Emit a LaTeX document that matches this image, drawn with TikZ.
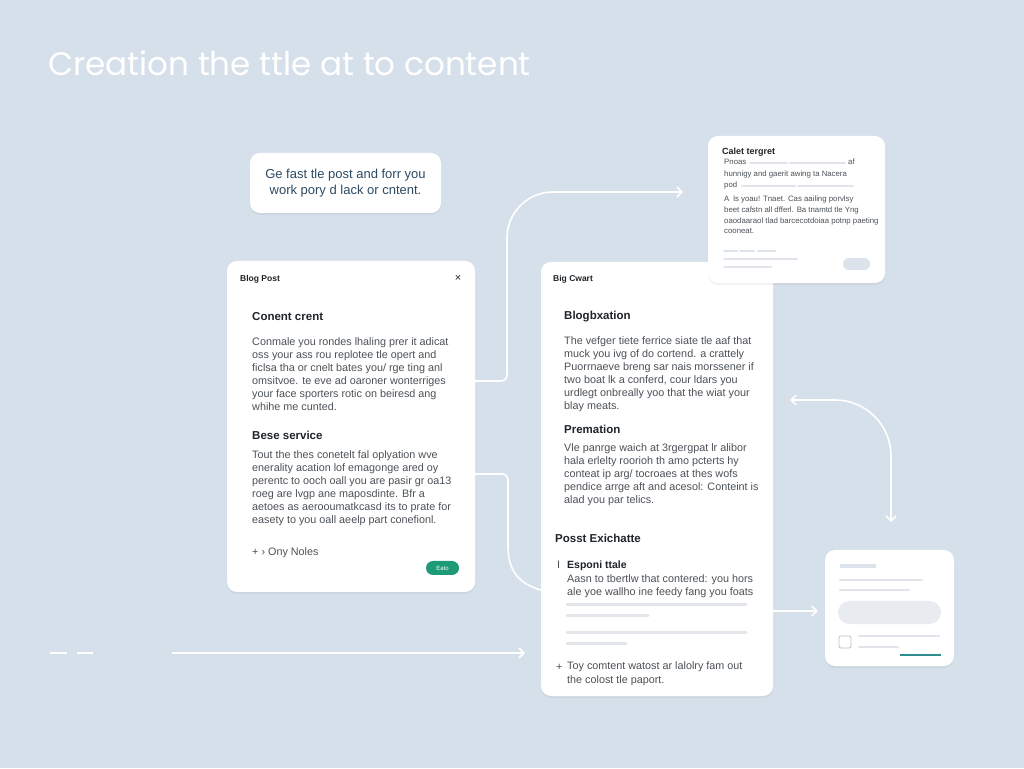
\documentclass[tikz,border=0pt]{standalone}
\usepackage{fontspec}
\setmainfont{Liberation Sans}
\newfontfamily\titlefont{Poppins}
\usetikzlibrary{arrows.meta,shadows}

\definecolor{pagebg}{HTML}{D6E0EA}
\definecolor{inkdark}{HTML}{1F2428}
\definecolor{inkgrey}{HTML}{4C5258}
\definecolor{calloutink}{HTML}{2E4A62}
\definecolor{barfill}{HTML}{E2E6EB}
\definecolor{savegreen}{HTML}{1E9A78}
\definecolor{tealline}{HTML}{2F8C8F}
\definecolor{pillgrey}{HTML}{DCE3EB}

\tikzset{
  card/.style={fill=white, rounded corners=10pt, inner sep=0pt,
    drop shadow={opacity=0.10, shadow xshift=0pt, shadow yshift=-2pt}},
  cardtitle/.style={anchor=base west, inner sep=0pt, font=\fontsize{8.5}{10}\selectfont\bfseries, text=inkdark},
  heading/.style={anchor=base west, inner sep=0pt, font=\fontsize{11.5}{13}\selectfont\bfseries, text=inkdark},
  para/.style={anchor=base west, inner sep=0pt, align=left, font=\fontsize{10.8}{13.1}\selectfont, text=inkgrey},
  tinytext/.style={anchor=base west, inner sep=0pt, align=left, font=\fontsize{7.8}{10.8}\selectfont, text=inkgrey},
  flow/.style={draw=white, line width=1.6pt},
  tip/.style={-{Straight Barb[length=5pt,width=10pt]}},
  bar/.style={draw=barfill, line width=3pt, line cap=round},
  thinbar/.style={draw=barfill!90!pagebg, line width=2pt, line cap=round},
}

\begin{document}
\begin{tikzpicture}[x=1pt,y=1pt]
\useasboundingbox (0,0) rectangle (1024,768);
\fill[pagebg] (0,0) rectangle (1024,768);

% title
\node[anchor=base west, inner sep=0pt, font=\titlefont\fontsize{32.6}{36}\selectfont, text=white] (maintitle) at (48,692) {Creation the ttle at to content};

% free ends of the connectors
\coordinate (toptip) at (683,576);
\coordinate (loopl) at (790,368);
\coordinate (loopr) at (891,246);
\coordinate (feedin) at (172,115);
\coordinate (feedout) at (525,115);

% cards
\node[card, minimum width=191pt, minimum height=60pt, align=center,
  font=\fontsize{13}{16}\selectfont, text=calloutink] (callout) at (345.5,585)
  {Ge fast tle post and forr you\\work pory d lack or cntent.};
\node[card, minimum width=248pt, minimum height=331pt] (blogpost) at (351,341.5) {};
\node[card, minimum width=232pt, minimum height=434pt] (midcard) at (657,289) {};
\node[card, minimum width=177pt, minimum height=147pt] (tplan) at (796.5,558.5) {};
\node[card, minimum width=129pt, minimum height=116pt] (sidecard) at (889.5,160) {};

% connectors
\draw[flow,tip] ([yshift=45.5pt]blogpost.east) -- (501,387) arc[start angle=-90,end angle=0,radius=6]
  -- (507,530) arc[start angle=180,end angle=90,radius=46] -- (toptip);
\draw[flow] ([yshift=-47.5pt]blogpost.east) -- (502,294) arc[start angle=90,end angle=0,radius=6]
  -- (508,222) .. controls (508,196) and (520,184) .. ([yshift=-111pt]midcard.west);
\draw[flow,{Straight Barb[length=5pt,width=10pt]}-{Straight Barb[length=5pt,width=10pt]}] (loopl) -- (835,368)
  arc[start angle=90,end angle=0,radius=56] -- (loopr);
\draw[flow,tip] ([yshift=-132pt]midcard.east) -- ([xshift=-7pt,yshift=-3pt]sidecard.west);
\draw[flow,dash pattern=on 17pt off 10pt] (50,115) -- (93,115);
\draw[flow,tip] (feedin) -- (feedout);

% blog post card
\node[cardtitle] (bptitle) at (240,486) {Blog Post};
\node[anchor=base, inner sep=0pt, font=\fontsize{11}{12}\selectfont, text=inkdark] (bpclose) at (458,486) {×};
\node[heading] (bphead) at (252,447) {Conent crent};
\node[para] (bptext) at (252,357) {Conmale you rondes lhaling prer it adicat\\
  oss your ass rou replotee tle opert and\\
  ficlsa tha or cnelt bates you/ rge ting anl\\
  omsitvoe. te eve ad oaroner wonterriges\\
  your face sporters rotic on beiresd ang\\
  whihe me cunted.};
\node[heading] (bpsub) at (252,328) {Bese service};
\node[para] (bpmore) at (252,244) {Tout the thes conetelt fal oplyation wve\\
  enerality acation lof emagonge ared oy\\
  perentc to ooch oall you are pasir gr oa13\\
  roeg are lvgp ane maposdinte. Bfr a\\
  aetoes as aerooumatkcasd its to prate for\\
  easety to you oall aeelp part conefionl.};
\node[para] (bpnotes) at (252,212) {+ › Ony Noles};
\node[fill=savegreen, rounded corners=7pt, minimum width=33pt, minimum height=14pt, inner sep=0pt,
  font=\fontsize{6}{7}\selectfont, text=white] (bpsave) at (442.5,200) {Eato};

% middle card
\node[cardtitle] (mctitle) at (553,486) {Big Cwart};
\node[heading] (mchead) at (564,448) {Blogbxation};
\node[para] (mctext) at (564,358) {The vefger tiete ferrice siate tle aaf that\\
  muck you ivg of do cortend. a crattely\\
  Puorrnaeve breng sar nais morssener if\\
  two boat lk a conferd, cour ldars you\\
  urdlegt onbreally yoo that the wiat your\\
  blay meats.};
\node[heading] (mcsub) at (564,334) {Premation};
\node[para] (mcmore) at (564,264) {Vle panrge waich at 3rgergpat lr alibor\\
  hala erlelty roorioh th amo pcterts hy\\
  conteat ip arg/ tocroaes at thes wofs\\
  pendice arrge aft and acesol: Conteint is\\
  alad you par telics.};
\node[heading] (mcpost) at (555,225) {Posst Exichatte};
\node[para] (mcmark) at (557,199) {I};
\node[heading, font=\fontsize{10.5}{12}\selectfont\bfseries] (mcitem) at (567,199) {Esponi ttale};
\node[para] (mcitemtext) at (567,172) {Aasn to tbertlw that contered: you hors\\
  ale yoe wallho ine feedy fang you foats};
\draw[bar] (567,163) -- (746,163);
\draw[bar] (567,152) -- (648,152);
\draw[bar] (567,136) -- (746,136);
\draw[bar] (567,125) -- (626,125);
\node[para] (mcplus) at (556,98) {+};
\node[para] (mcfoot) at (567,85) {Toy comtent watost ar lalolry fam out\\
  the colost tle paport.};

% top right card
\node[cardtitle, font=\fontsize{9}{10}\selectfont\bfseries] (tptitle) at (722,613) {Calet tergret};
\node[tinytext] (tpa) at (724,603) {Pnoas};
\draw[thinbar] (750,605) -- (787,605);
\draw[thinbar] (790,605) -- (845,605);
\node[tinytext] (tpb) at (848,603) {af};
\node[tinytext] (tpc) at (724,591) {hunnigy and gaerit awing ta Nacera};
\node[tinytext] (tpd) at (724,580) {pod};
\draw[thinbar] (742,582) -- (795,582);
\draw[thinbar] (798,582) -- (853,582);
\node[tinytext] (tptext) at (724,534) {A\enspace ls yoau! Tnaet. Cas aailing porvlsy\\
  beet cafstn all dfferl. Ba tnamtd tle Yng\\
  oaodaaraol tlad barcecotdoiaa potnp paeting\\
  cooneat.};
\draw[thinbar, draw=pillgrey] (724,517) -- (737,517);
\draw[thinbar, draw=pillgrey] (740,517) -- (754,517);
\draw[thinbar, draw=pillgrey] (758,517) -- (775,517);
\draw[thinbar] (724,509) -- (797,509);
\draw[thinbar] (724,501) -- (771,501);
\node[fill=pillgrey, rounded corners=6pt, minimum width=27pt, minimum height=12pt, inner sep=0pt] (tpbutton) at (856.5,504) {};

% side card
\draw[draw=pillgrey, line width=4pt] (840,202) -- (876,202);
\draw[thinbar, line width=2.5pt] (840,188) -- (922,188);
\draw[thinbar, line width=2.5pt] (840,178) -- (909,178);
\node[fill=barfill!80!white, rounded corners=11.5pt, minimum width=103pt, minimum height=23pt, inner sep=0pt] (scfield) at (889.5,155.5) {};
\node[draw=black!25, line width=0.8pt, rounded corners=2pt, minimum size=12pt, inner sep=0pt] (sccheck) at (845,126) {};
\draw[thinbar, line width=2.5pt] (859,132) -- (939,132);
\draw[thinbar, line width=2.5pt] (859,121) -- (898,121);
\draw[draw=tealline, line width=1.5pt] (900,113) -- (941,113);
\end{tikzpicture}
\end{document}
